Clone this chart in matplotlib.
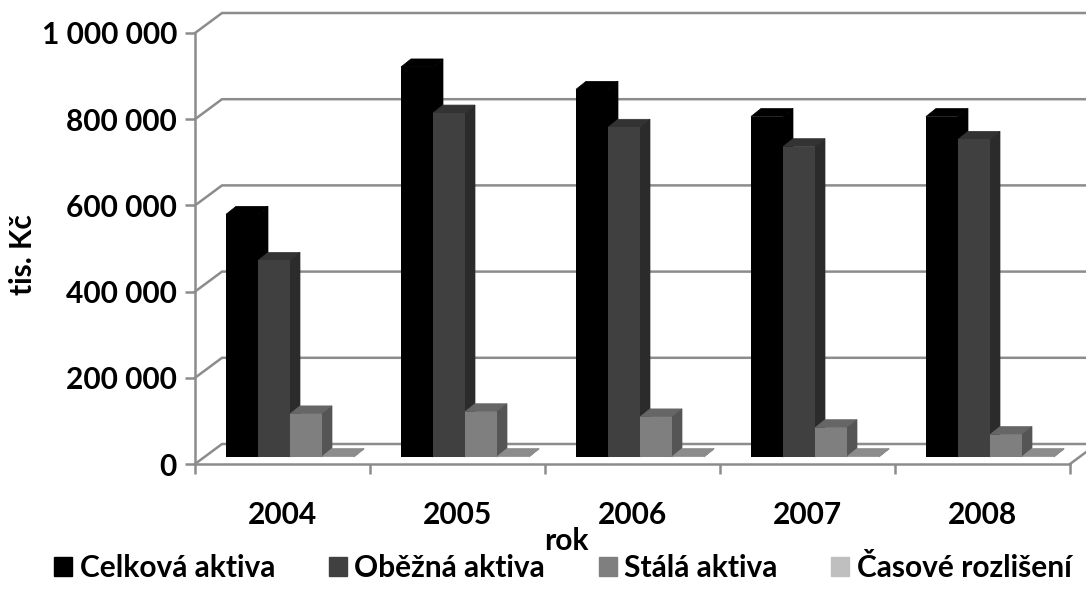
import matplotlib
matplotlib.use('Agg')
import matplotlib.pyplot as plt
from matplotlib.patches import Patch, Polygon

plt.rcParams['font.family'] = ['Lato', 'DejaVu Sans']
plt.rcParams['font.weight'] = 'bold'

years = ['2004', '2005', '2006', '2007', '2008']
series = ['Celková aktiva', 'Oběžná aktiva', 'Stálá aktiva', 'Časové rozlišení']
celkova = [563000, 905000, 853000, 790000, 790000]
obezna = [456000, 798000, 765000, 720000, 737000]
stala = [100000, 105000, 93000, 68000, 52000]
casove = [1000, 1000, 1000, 1000, 1000]
yticks = [0, 200000, 400000, 600000, 800000, 1000000]
ylabels = ['0', '200 000', '400 000', '600 000', '800 000', '1 000 000']

# front, top, side shade of each series
shades = [
    ('#000000', '#000000', '#000000'),
    ('#404040', '#333333', '#2b2b2b'),
    ('#7f7f7f', '#666666', '#555555'),
    ('#bfbfbf', '#8c8c8c', '#8c8c8c'),
]
gridc = '#8c8c8c'
fs = 21.5

W, H = 1086, 589
fig = plt.figure(figsize=(W / 100, H / 100), dpi=100)
ax = fig.add_axes([195 / W, 1 - 464 / H, 875 / W, 431 / H])
ax.set_xlim(0, 5)
ax.set_ylim(0, 1000000)

# pixel sizes in data units, for the fake 3D
xpx = 5 / 875
ypx = 1000000 / 431
wall_dx, wall_dy = 27 * xpx, 20 * ypx
depth_dx, depth_dy = 10 * xpx, 8 * ypx
base_dx, base_dy = 9 * xpx, 7 * ypx
bar_w = 32 * xpx
gap = 22 * xpx

# back wall
for v in yticks:
    ax.plot([0, wall_dx, 5 + wall_dx], [v, v + wall_dy, v + wall_dy],
            color=gridc, lw=1.8, clip_on=False, zorder=1)
ax.plot([5, 5 + wall_dx], [0, wall_dy], color=gridc, lw=1.8, clip_on=False, zorder=1)

for i in range(len(years)):
    for j, vals in enumerate([celkova, obezna, stala, casove]):
        front, top, side = shades[j]
        x0 = i + gap + base_dx + j * bar_w
        x1 = x0 + bar_w
        y1 = base_dy + vals[i]
        z = 3 + i * 4 + j
        ax.add_patch(Polygon([(x0, y1), (x0 + depth_dx, y1 + depth_dy),
                              (x1 + depth_dx, y1 + depth_dy), (x1, y1)],
                             fc=top, ec=top, lw=0.5, clip_on=False, zorder=z))
        ax.add_patch(Polygon([(x1, base_dy), (x1 + depth_dx, base_dy + depth_dy),
                              (x1 + depth_dx, y1 + depth_dy), (x1, y1)],
                             fc=side, ec=side, lw=0.5, clip_on=False, zorder=z))
        ax.bar(x0, vals[i], bar_w, bottom=base_dy, align='edge', color=front, lw=0, zorder=z)

for s in ['top', 'right']:
    ax.spines[s].set_visible(False)
for s in ['left', 'bottom']:
    ax.spines[s].set_color(gridc)
    ax.spines[s].set_linewidth(1.8)
    ax.spines[s].set_zorder(2)

ax.set_yticks(yticks, ylabels, fontsize=fs)
ax.set_xticks(range(6), [''] * 6)
ax.set_xticks([i + 0.5 for i in range(5)], years, minor=True, fontsize=fs)
ax.tick_params(axis='both', which='major', color=gridc, width=1.8, length=7)
ax.tick_params(axis='y', pad=6)
ax.tick_params(axis='x', which='minor', length=0, pad=27)

fig.text(23 / W, 1 - 255 / H, 'tis. Kč', rotation=90, ha='center', va='center', fontsize=fs)
fig.text(566 / W, 1 - 541 / H, 'rok', ha='center', va='center', fontsize=fs)

handles = [Patch(color=shades[k][0], label=series[k]) for k in range(4)]
fig.legend(handles=handles, ncols=4, frameon=False, fontsize=fs,
           loc='center', bbox_to_anchor=(563 / W, 1 - 568 / H), borderaxespad=0, borderpad=0,
           handlelength=0.6, handleheight=0.6, handletextpad=0.25, columnspacing=1.8)

fig.savefig('out.png', dpi=100)
